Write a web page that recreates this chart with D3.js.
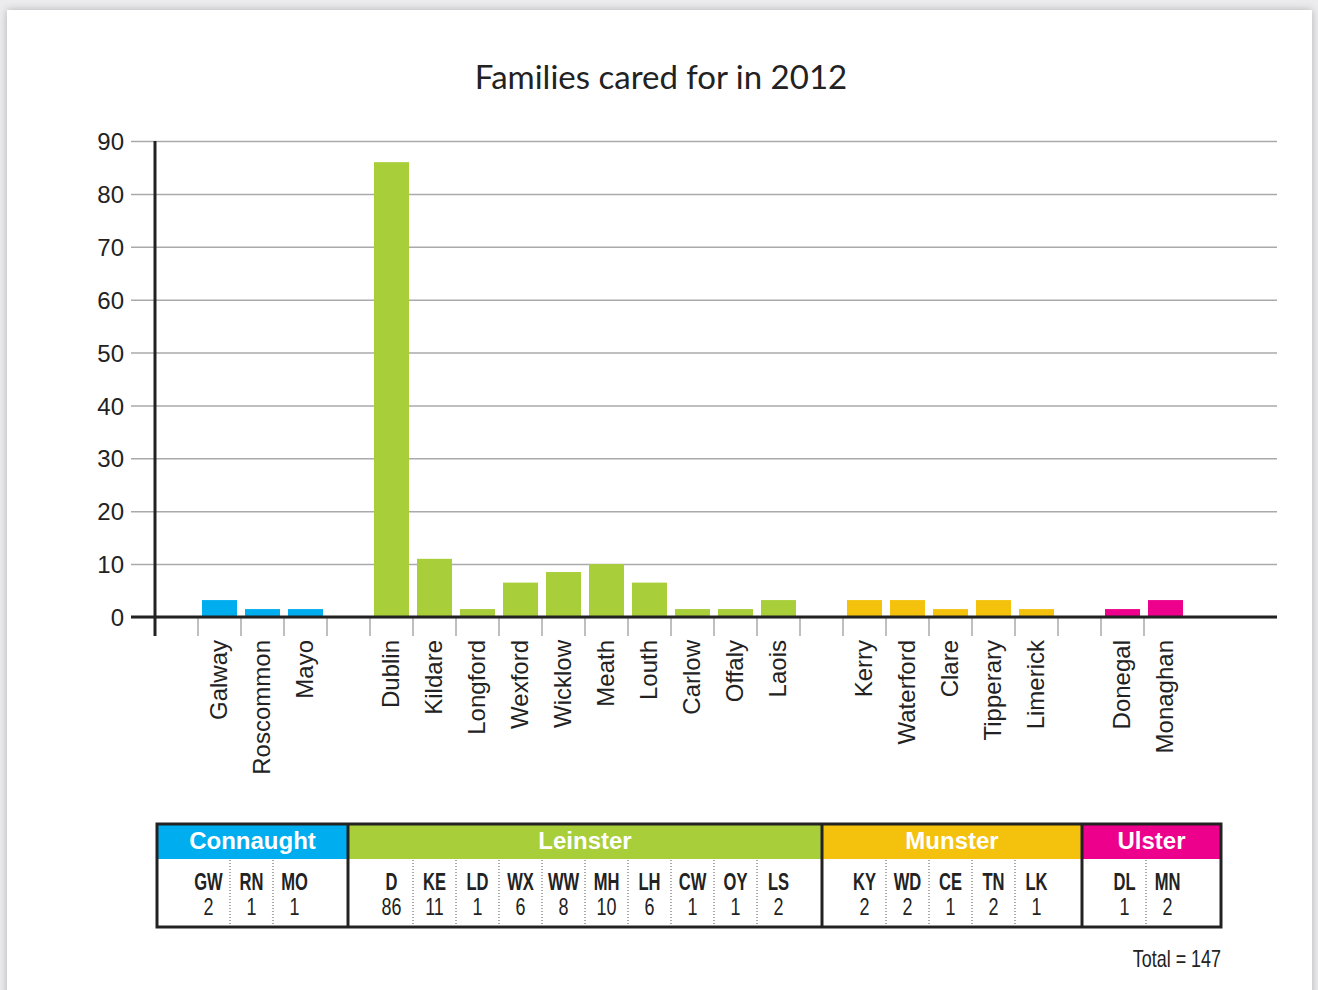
<!DOCTYPE html>
<html>
<head>
<meta charset="utf-8">
<script src="https://cdn.jsdelivr.net/npm/d3@7"></script>
<style>
  body { margin: 0; background: #ececee; }
  svg { display: block; }
</style>
</head>
<body>
<div id="chart"></div>
<script>
// slots along the x axis, "" = empty gap between provinces
const slots = ["", "Galway", "Roscommon", "Mayo", "", "Dublin", "Kildare", "Longford", "Wexford",
  "Wicklow", "Meath", "Louth", "Carlow", "Offaly", "Laois", "", "Kerry", "Waterford", "Clare",
  "Tipperary", "Limerick", "", "Donegal", "Monaghan", "", ""];
const counties = ["Galway", "Roscommon", "Mayo", "Dublin", "Kildare", "Longford", "Wexford", "Wicklow",
  "Meath", "Louth", "Carlow", "Offaly", "Laois", "Kerry", "Waterford", "Clare", "Tipperary",
  "Limerick", "Donegal", "Monaghan"];
// bar heights as drawn in the picture
const barValues = [3.2, 1.5, 1.5, 86, 11, 1.5, 6.5, 8.5, 10, 6.5, 1.5, 1.5, 3.2, 3.2, 3.2, 1.5, 3.2, 1.5, 1.5, 3.2];
const codes = ["GW", "RN", "MO", "D", "KE", "LD", "WX", "WW", "MH", "LH", "CW", "OY", "LS",
  "KY", "WD", "CE", "TN", "LK", "DL", "MN"];
const counts = [2, 1, 1, 86, 11, 1, 6, 8, 10, 6, 1, 1, 2, 2, 2, 1, 2, 1, 1, 2];
const provinceOf = ["Connaught", "Connaught", "Connaught", "Leinster", "Leinster", "Leinster", "Leinster",
  "Leinster", "Leinster", "Leinster", "Leinster", "Leinster", "Leinster", "Munster", "Munster",
  "Munster", "Munster", "Munster", "Ulster", "Ulster"];
const provinces = ["Connaught", "Leinster", "Munster", "Ulster"];
const provinceColors = ["#00aeef", "#a8ce3a", "#f4c20d", "#ec008c"];
const yTicks = [0, 10, 20, 30, 40, 50, 60, 70, 80, 90];
const total = 147;

const W = 1318, H = 990;
const svg = d3.select("#chart").append("svg").attr("width", W).attr("height", H);

// card with soft shadow
const defs = svg.append("defs");
const f = defs.append("filter").attr("id", "sh").attr("x", "-5%").attr("y", "-5%").attr("width", "110%").attr("height", "110%");
f.append("feGaussianBlur").attr("in", "SourceAlpha").attr("stdDeviation", 4);
f.append("feComponentTransfer").append("feFuncA").attr("type", "linear").attr("slope", 0.25);
const fm = f.append("feMerge");
fm.append("feMergeNode");
fm.append("feMergeNode").attr("in", "SourceGraphic");
svg.append("rect").attr("x", 7).attr("y", 10).attr("width", 1305).attr("height", 1000)
  .attr("fill", "#fff").attr("filter", "url(#sh)");

const color = d3.scaleOrdinal().domain(provinces).range(provinceColors);

const x = d3.scaleBand().domain(d3.range(slots.length)).range([155, 155 + 43 * slots.length])
  .paddingInner(0.186).paddingOuter(0.093);
const slotIndex = counties.map(c => slots.indexOf(c));
const y = d3.scaleLinear().domain([0, 90]).range([617, 141]);

svg.append("text").attr("x", 661).attr("y", 89).attr("text-anchor", "middle")
  .style("font-family", "Lato, 'Noto Sans', sans-serif").style("font-size", "33px").attr("fill", "#222")
  .text("Families cared for in 2012");

// y axis + grid
const yAxis = svg.append("g").attr("transform", "translate(131,0)")
  .call(d3.axisLeft(y).tickValues(yTicks).tickSize(-(1277 - 131)).tickPadding(7));
yAxis.select(".domain").remove();
yAxis.selectAll(".tick line").attr("stroke", "#aaa").attr("stroke-width", 1.5);
yAxis.selectAll(".tick text").style("font-family", "'Liberation Sans', Arial, sans-serif")
  .style("font-size", "24px").attr("fill", "#222").attr("dy", "0.36em");

// category ticks (at band edges)
const step = x.step();
const tickSlots = d3.range(slotIndex[0], slotIndex[slotIndex.length - 1] + 1);
svg.append("g").selectAll("line").data(tickSlots).join("line")
  .attr("x1", i => x(i) - step * 0.093).attr("x2", i => x(i) - step * 0.093)
  .attr("y1", 617).attr("y2", 636).attr("stroke", "#aaa").attr("stroke-width", 1.5);

// bars
svg.append("g").selectAll("rect").data(counties).join("rect")
  .attr("x", (d, i) => x(slotIndex[i]))
  .attr("width", x.bandwidth())
  .attr("y", (d, i) => y(barValues[i]))
  .attr("height", (d, i) => y(0) - y(barValues[i]))
  .attr("fill", (d, i) => color(provinceOf[i]));

// zero line and y axis line
svg.append("line").attr("x1", 131).attr("x2", 1277).attr("y1", y(0)).attr("y2", y(0))
  .attr("stroke", "#222").attr("stroke-width", 3);
svg.append("line").attr("x1", 155).attr("x2", 155).attr("y1", 141).attr("y2", 636)
  .attr("stroke", "#222").attr("stroke-width", 3);

// rotated county labels
svg.append("g").selectAll("text").data(counties).join("text")
  .attr("transform", (d, i) => `translate(${x(slotIndex[i]) + x.bandwidth() / 2 + 7},640) rotate(-90)`)
  .attr("text-anchor", "end")
  .style("font-family", "'Liberation Sans', Arial, sans-serif").style("font-size", "24px").attr("fill", "#222")
  .text(d => d);

// table
const tOffset = { Connaught: -11, Leinster: 0, Munster: 0, Ulster: 2 };
const bounds = [157, 348, 822, 1082, 1221];
const tTop = 824, tHead = 859, tBot = 927;
const narrow = "'Liberation Sans Narrow', 'Liberation Sans', sans-serif";
const tbl = svg.append("g");
provinces.forEach((p, k) => {
  tbl.append("rect").attr("x", bounds[k]).attr("y", tTop).attr("width", bounds[k + 1] - bounds[k])
    .attr("height", tHead - tTop).attr("fill", provinceColors[k]);
  tbl.append("text").attr("x", (bounds[k] + bounds[k + 1]) / 2).attr("y", tHead - 10)
    .attr("text-anchor", "middle").attr("fill", "#fff")
    .style("font-family", "'Liberation Sans', Arial, sans-serif").style("font-weight", "bold").style("font-size", "24px")
    .text(p);
});
const colX = counties.map((c, i) => x(slotIndex[i]) + x.bandwidth() / 2 + tOffset[provinceOf[i]]);
// dotted separators within provinces
counties.forEach((c, i) => {
  if (i > 0 && provinceOf[i] === provinceOf[i - 1]) {
    const sx = (colX[i] + colX[i - 1]) / 2;
    tbl.append("line").attr("x1", sx).attr("x2", sx).attr("y1", tHead + 1).attr("y2", tBot - 1)
      .attr("stroke", "#555").attr("stroke-width", 1).attr("stroke-dasharray", "1,2");
  }
});
// condensed look: squeeze text horizontally
tbl.selectAll("text.code").data(codes).join("text").attr("class", "code")
  .attr("transform", (d, i) => `translate(${colX[i]},890) scale(0.72,1)`)
  .attr("text-anchor", "middle").attr("fill", "#222")
  .style("font-family", narrow).style("font-weight", "bold")
  .style("font-size", "23px").text(d => d);
tbl.selectAll("text.count").data(counts).join("text").attr("class", "count")
  .attr("transform", (d, i) => `translate(${colX[i]},915) scale(0.78,1)`)
  .attr("text-anchor", "middle").attr("fill", "#222")
  .style("font-family", narrow)
  .style("font-size", "23px").text(d => d);
// province dividers and outer box
bounds.slice(1, 4).forEach(b => {
  tbl.append("line").attr("x1", b).attr("x2", b).attr("y1", tTop).attr("y2", tBot)
    .attr("stroke", "#222").attr("stroke-width", 3);
});
tbl.append("rect").attr("x", 157).attr("y", tTop).attr("width", 1221 - 157).attr("height", tBot - tTop)
  .attr("fill", "none").attr("stroke", "#222").attr("stroke-width", 3);

svg.append("text").attr("transform", "translate(1221,967) scale(0.78,1)").attr("text-anchor", "end").attr("fill", "#222")
  .style("font-family", narrow).style("font-size", "23px")
  .text("Total = " + total);
</script>
</body>
</html>
